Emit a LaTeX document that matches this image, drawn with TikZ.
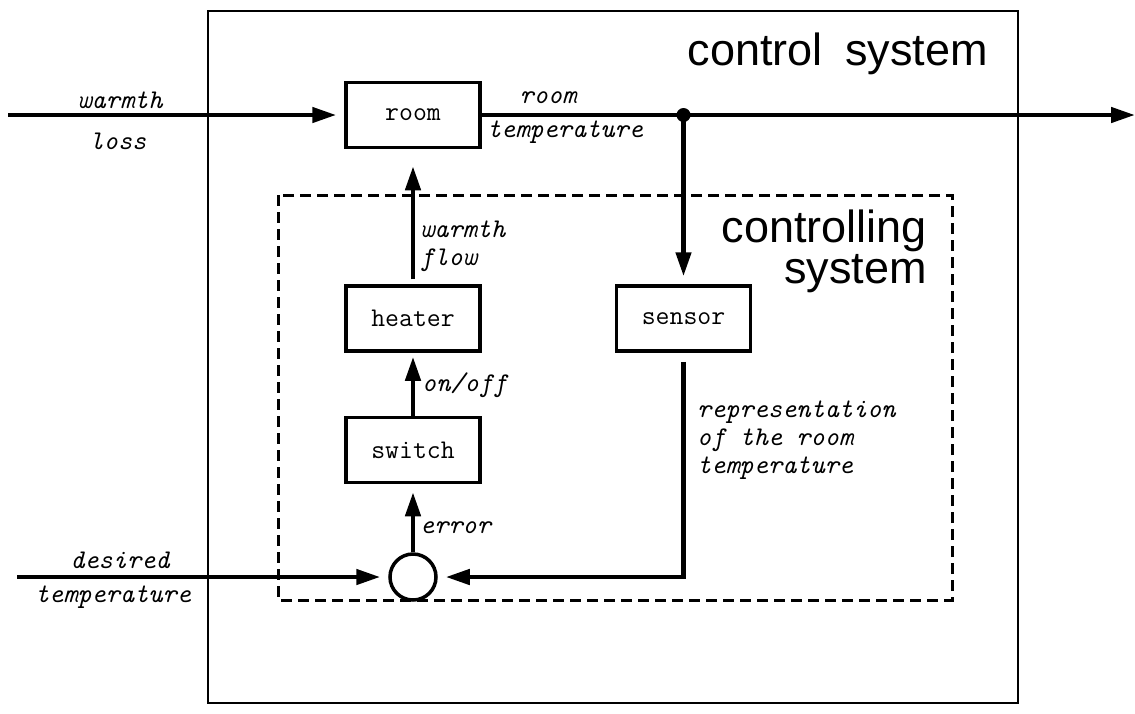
\documentclass[tikz,border=0pt]{standalone}
\usepackage{fontspec}
\setsansfont{Liberation Sans}
\usetikzlibrary{arrows.meta,positioning}

\begin{document}
\begin{tikzpicture}[x=1pt,y=-1pt]
    \tikzset{block/.style= {draw, rectangle
    , line width=3.5pt
    , minimum width=134pt
    , minimum height=65pt
    , font=\fontsize{27}{30}\selectfont\ttfamily
      }
    , sigline/.style= {line width=4.5pt
    , -{Triangle[length=24pt,width=15pt]}
    , shorten >=8pt
      }
    , lbl/.style= {font=\fontsize{27}{28}\selectfont\ttfamily\itshape
    , inner sep=0pt
    , align=left
      }
    , heading/.style= {font=\fontsize{45}{41}\selectfont\sffamily
    , inner sep=0pt
    , align=right
      }
    }

\useasboundingbox (0,0) rectangle (1135,713);

% the two system borders
\draw[line width=1.8pt] (208,11) rectangle (1018,703);
\draw[line width=3pt, dash pattern=on 11pt off 6pt] (278,195) rectangle (952,600);
\node[heading, anchor=base east] (outerlbl) at (988,65) {control\enspace system};
\node[heading, anchor=east] (innerlbl) at (927,251) {controlling\\system};

\node [block] (room) at (413,115) {room};
\node [block, below=135pt of room] (heater) {heater};
\node [block, below=63pt of heater] (switch) {switch};
\node [draw, circle, line width=3.5pt, minimum size=46pt, below=68pt of switch] (sum) {};
\node [block, right=133pt of heater] (sensor) {sensor};

\coordinate (lossin) at (8,0);
\coordinate (wantin) at (17,0);
\coordinate (out) at (1135,0);
\coordinate (tap) at (sensor.north |- room.east);

 \path[draw, sigline] (lossin |- room) -- (room);
 \path[draw, sigline, shorten >=0pt] (room.east) -- (out |- room.east);
 \fill (tap) circle (7pt);
 \path[draw, sigline] (tap) -- (sensor);
 \path[draw, sigline, shorten >=17pt, shorten <=5pt] (heater) -- (room);
 \path[draw, sigline, shorten >=4pt] (switch) -- (heater);
 \path[draw, sigline] (sum) -- (switch);
 \path[draw, sigline] ([yshift=-9pt]sensor.south) |- (sum);
 \path[draw, sigline] (wantin |- sum) -- (sum);

\node[lbl] (lossa) at (120,100) {warmth};
\node[lbl] (lossb) at (118,141) {loss};
\node[lbl] (tempa) at (548,98) {room};
\node[lbl] (tempb) at (565,132) {temperature};
\node[lbl, anchor=west] (flowlbl) at (420,246) {warmth\\flow};
\node[lbl, anchor=west] (onofflbl) at (422,385) {on/off};
\node[lbl, anchor=west] (errorlbl) at (420,528) {error};
\node[lbl, anchor=west] (reprlbl) at (697,440) {representation\\of the room\\temperature};
\node[lbl] (wanta) at (120,560) {desired};
\node[lbl] (wantb) at (113,597) {temperature};
\end{tikzpicture}
\end{document}
